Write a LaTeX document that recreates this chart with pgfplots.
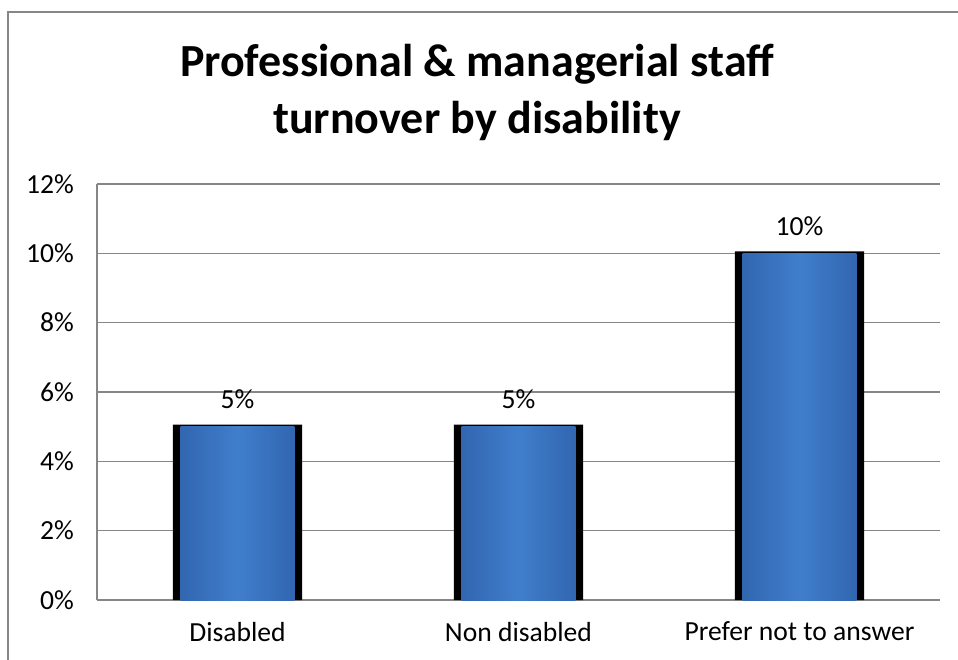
\documentclass[border=0pt]{standalone}
\usepackage{pgfplots}
\pgfplotsset{compat=1.18}
\usepackage{fontspec}
\setmainfont{Carlito}
\definecolor{gridgrey}{RGB}{134,134,134}
\definecolor{bluemid}{RGB}{64,126,204}
\definecolor{blueedge}{RGB}{50,102,176}
\begin{document}
\begin{tikzpicture}[x=1pt,y=1pt]
\useasboundingbox (0,0) rectangle (479,329.5);
\draw[gridgrey, line width=0.8pt] (4,-10) rectangle (490,323.5);
\node[anchor=base, font=\fontsize{23}{28}\selectfont\bfseries] at (238.5,291) {Professional \& managerial staff};
\node[anchor=base, font=\fontsize{23}{28}\selectfont\bfseries] at (238.5,262.5) {turnover by disability};
\begin{axis}[
  at={(48.5pt,29.5pt)}, anchor=south west,
  scale only axis, width=421.5pt, height=208pt,
  xmin=-0.5, xmax=2.5, ymin=0, ymax=12,
  xtick={0,1,2}, xticklabels={Disabled, Non disabled, Prefer not to answer},
  ytick={0,2,4,6,8,10,12},
  yticklabel={\pgfmathprintnumber{\tick}\%},
  /pgf/number format/assume math mode=true,
  ticklabel style={font=\fontsize{13.8}{15}\selectfont},
  yticklabel style={xshift=-8pt},
  xticklabel style={yshift=-7.5pt},
  major tick length=0pt,
  axis x line*=bottom, axis y line*=left,
  axis line style={gridgrey, line width=0.8pt, -},
  ymajorgrids, grid style={gridgrey, line width=0.8pt},
  clip=false,
  barblue/.style={ybar, bar shift=0pt, bar width=0.405, draw=none,
    left color=blueedge, right color=blueedge, middle color=bluemid,
    nodes near coords={\pgfmathprintnumber{\pgfplotspointmeta}\%},
    every node near coord/.append style={anchor=base, yshift=9pt, font=\fontsize{13.8}{15}\selectfont, text=black},
    point meta=y},
]
\addplot[ybar, bar shift=0pt, bar width=0.46, fill=black, draw=none] coordinates {(0,5.06) (1,5.06) (2,10.06)};
\addplot[barblue] coordinates {(0,5)};
\addplot[barblue] coordinates {(1,5)};
\addplot[barblue] coordinates {(2,10)};
\end{axis}
\end{tikzpicture}
\end{document}
